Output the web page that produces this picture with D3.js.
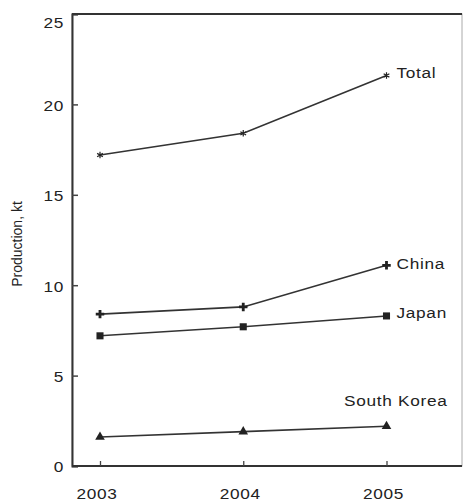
<!DOCTYPE html>
<html>
<head>
<meta charset="utf-8">
<script src="https://cdn.jsdelivr.net/npm/d3@7/dist/d3.min.js"></script>
<style>
  html, body { margin: 0; padding: 0; background: #fff; }
  svg { display: block; }
  text { font-family: "Liberation Sans", Arial, sans-serif; fill: #222; }
</style>
</head>
<body>
<svg id="chart" width="465" height="502"></svg>
<script>
// Production by year, kt
const years = [2003, 2004, 2005];
const total = [17.2, 18.4, 21.6];
const china = [8.4, 8.8, 11.1];
const japan = [7.2, 7.7, 8.3];
const southKorea = [1.6, 1.9, 2.2];
const yTicks = [0, 5, 10, 15, 20, 25];

const series = [
  { name: "Total", values: total, marker: "star" },
  { name: "China", values: china, marker: "cross" },
  { name: "Japan", values: japan, marker: "square" },
  { name: "South Korea", values: southKorea, marker: "triangle" }
];

const svg = d3.select("#chart");
const plotLeft = 72, plotRight = 462, plotTop = 14, plotBottom = 466;
const fontSize = 15;
const stretch = 1.15;

const x = d3.scalePoint().domain(years).range([100, 386.5]);
const y = d3.scaleLinear().domain([0, 25]).range([plotBottom, plotTop]);

// wide-set label text: placed at (px, py), stretched horizontally
function label(sel, px, py, anchor) {
  return sel
    .attr("transform", `translate(${px},${py}) scale(${stretch},1)`)
    .attr("text-anchor", anchor)
    .attr("dy", "0.36em")
    .attr("font-size", fontSize)
    .style("letter-spacing", "0.6px");
}

// frame
svg.append("rect")
  .attr("x", plotLeft).attr("y", plotTop)
  .attr("width", plotRight - plotLeft).attr("height", plotBottom - plotTop)
  .attr("fill", "none").attr("stroke", "#aaa").attr("stroke-width", 1);

// y axis
const yAxis = svg.append("g").attr("transform", `translate(${plotLeft},0)`)
  .call(d3.axisRight(y).tickValues(yTicks).tickSize(6).tickFormat(""));
yAxis.select(".domain").attr("stroke", "#333").attr("stroke-width", 2);
yAxis.selectAll(".tick line").attr("stroke", "#444").attr("stroke-width", 1.5);

svg.selectAll(".ylab").data(yTicks).join("text")
  .attr("class", "ylab")
  .each(function (d) {
    label(d3.select(this), 64, Math.max(y(d), 22) + 1, "end").text(d);
  });

// x axis
const xAxis = svg.append("g").attr("transform", `translate(0,${plotBottom})`)
  .call(d3.axisTop(x).tickSize(5).tickFormat(""));
xAxis.select(".domain").attr("stroke", "#333").attr("stroke-width", 2)
  .attr("d", `M${plotLeft},0H${plotRight}`);
xAxis.selectAll(".tick line").attr("stroke", "#444").attr("stroke-width", 1.3);

svg.selectAll(".xlab").data(years).join("text")
  .attr("class", "xlab")
  .each(function (d) {
    label(d3.select(this), x(d) - 3, 494, "middle").text(d);
  });

// top border darker
svg.append("line")
  .attr("x1", plotLeft).attr("x2", plotRight).attr("y1", plotTop).attr("y2", plotTop)
  .attr("stroke", "#333").attr("stroke-width", 2);

// axis title
svg.append("text")
  .attr("transform", "translate(22,244) rotate(-90)")
  .attr("text-anchor", "middle")
  .attr("font-size", 14)
  .text("Production, kt");

// lines
const line = d3.line().x((d, i) => x(years[i])).y(d => y(d));
svg.selectAll(".series").data(series).join("path")
  .attr("class", "series")
  .attr("d", d => line(d.values))
  .attr("fill", "none")
  .attr("stroke", "#333")
  .attr("stroke-width", 1.6);

// markers
const symbolType = {
  star: d3.symbolAsterisk,
  cross: d3.symbolCross,
  square: d3.symbolSquare,
  triangle: d3.symbolTriangle
};
const symbolSize = { star: 30, cross: 40, square: 50, triangle: 40 };

series.forEach(s => {
  svg.selectAll(null).data(s.values).join("path")
    .attr("transform", (d, i) => `translate(${x(years[i])},${y(d)})`)
    .attr("d", d3.symbol().type(symbolType[s.marker]).size(symbolSize[s.marker]))
    .attr("fill", "#222")
    .attr("stroke", s.marker === "star" ? "#222" : "none")
    .attr("stroke-width", 1.2);
});

// series labels
const labelPos = {
  "Total": { dx: 10, dy: -3, anchor: "start" },
  "China": { dx: 10, dy: -2, anchor: "start" },
  "Japan": { dx: 10, dy: -3, anchor: "start" },
  "South Korea": { dx: 61, dy: -26, anchor: "end" }
};
series.forEach(s => {
  const p = labelPos[s.name];
  const v = s.values[s.values.length - 1];
  label(svg.append("text"), x(years[years.length - 1]) + p.dx, y(v) + p.dy, p.anchor)
    .text(s.name);
});
</script>
</body>
</html>
